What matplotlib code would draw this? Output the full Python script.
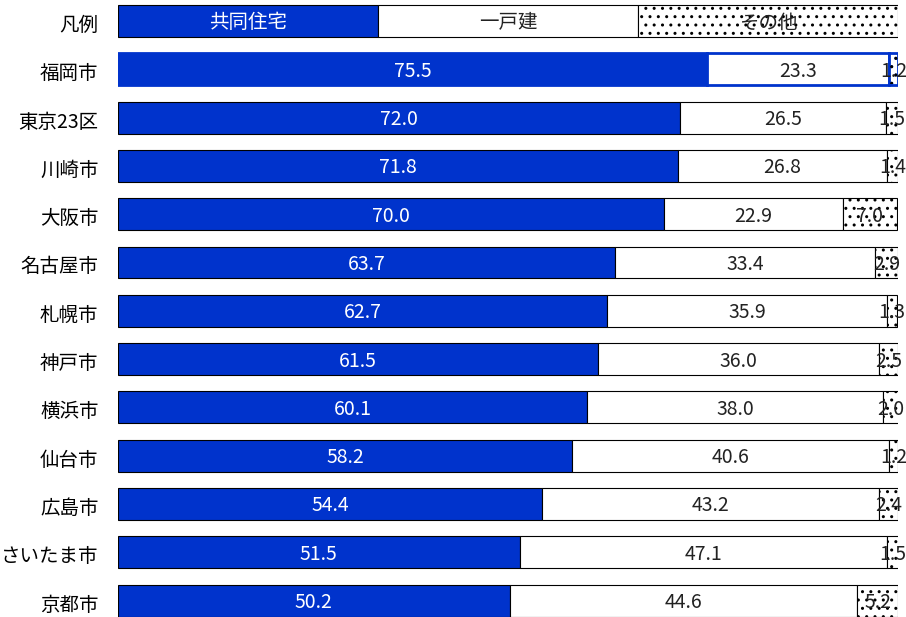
import matplotlib
matplotlib.use('Agg')
import matplotlib.pyplot as plt

plt.rcParams['font.family'] = ['Noto Sans CJK JP', 'DejaVu Sans']
plt.rcParams['hatch.linewidth'] = 1.0

cities = ['凡例', '福岡市', '東京23区', '川崎市', '大阪市', '名古屋市', '札幌市',
          '神戸市', '横浜市', '仙台市', '広島市', 'さいたま市', '京都市']
kyodo = [100 / 3, 75.5, 72.0, 71.8, 70.0, 63.7, 62.7, 61.5, 60.1, 58.2, 54.4, 51.5, 50.2]
ikko = [100 / 3, 23.3, 26.5, 26.8, 22.9, 33.4, 35.9, 36.0, 38.0, 40.6, 43.2, 47.1, 44.6]
sonota = [100 / 3, 1.2, 1.5, 1.4, 7.0, 2.9, 1.3, 2.5, 2.0, 1.2, 2.4, 1.5, 5.2]
legend_names = ['共同住宅', '一戸建', 'その他']

blue = '#0033CC'
fs = 14

fig = plt.figure(figsize=(9.06, 6.17), dpi=100)
ax = fig.add_axes([118 / 906, 0, 780 / 906, 1])

rows = list(range(len(cities)))
h = 0.66
dy = 0.04  # nudge labels down a touch, the CJK font sits high
for i in rows:
    edge = blue if cities[i] == '福岡市' else 'black'
    lw = 2.0 if cities[i] == '福岡市' else 0.8
    ax.barh(i, kyodo[i], height=h, color=blue, edgecolor=edge, linewidth=lw)
    ax.barh(i, ikko[i], left=kyodo[i], height=h, color='white', edgecolor=edge, linewidth=lw)
    ax.barh(i, sonota[i], left=kyodo[i] + ikko[i], height=h, color='white',
            edgecolor=edge, linewidth=lw, hatch='..')
    # hatch colour follows the edge colour, so redraw a black-dotted fill for the highlighted row
    if cities[i] == '福岡市':
        ax.barh(i, sonota[i], left=kyodo[i] + ikko[i], height=h * 0.9, color='none',
                edgecolor='black', linewidth=0, hatch='..')

    if i == 0:
        texts = legend_names
    else:
        texts = ['%.1f' % kyodo[i], '%.1f' % ikko[i], '%.1f' % sonota[i]]
    ax.text(kyodo[i] / 2, i + dy, texts[0], color='white', ha='center', va='center',
            fontsize=fs)
    ax.text(kyodo[i] + ikko[i] / 2, i + dy, texts[1], color='#222222', ha='center',
            va='center', fontsize=fs)
    ax.text(kyodo[i] + ikko[i] + sonota[i] / 2, i + dy, texts[2], color='#222222',
            ha='center', va='center', fontsize=fs)

ax.set_xlim(0, 100)
ax.set_ylim((617 - 21) / 48.3, -21 / 48.3)
ax.set_yticks([r + dy for r in rows])
ax.set_yticklabels(cities, fontsize=fs)
ax.tick_params(axis='y', length=0, pad=14)
ax.set_xticks([])
for s in ax.spines.values():
    s.set_visible(False)

fig.savefig('out.png', dpi=100)
